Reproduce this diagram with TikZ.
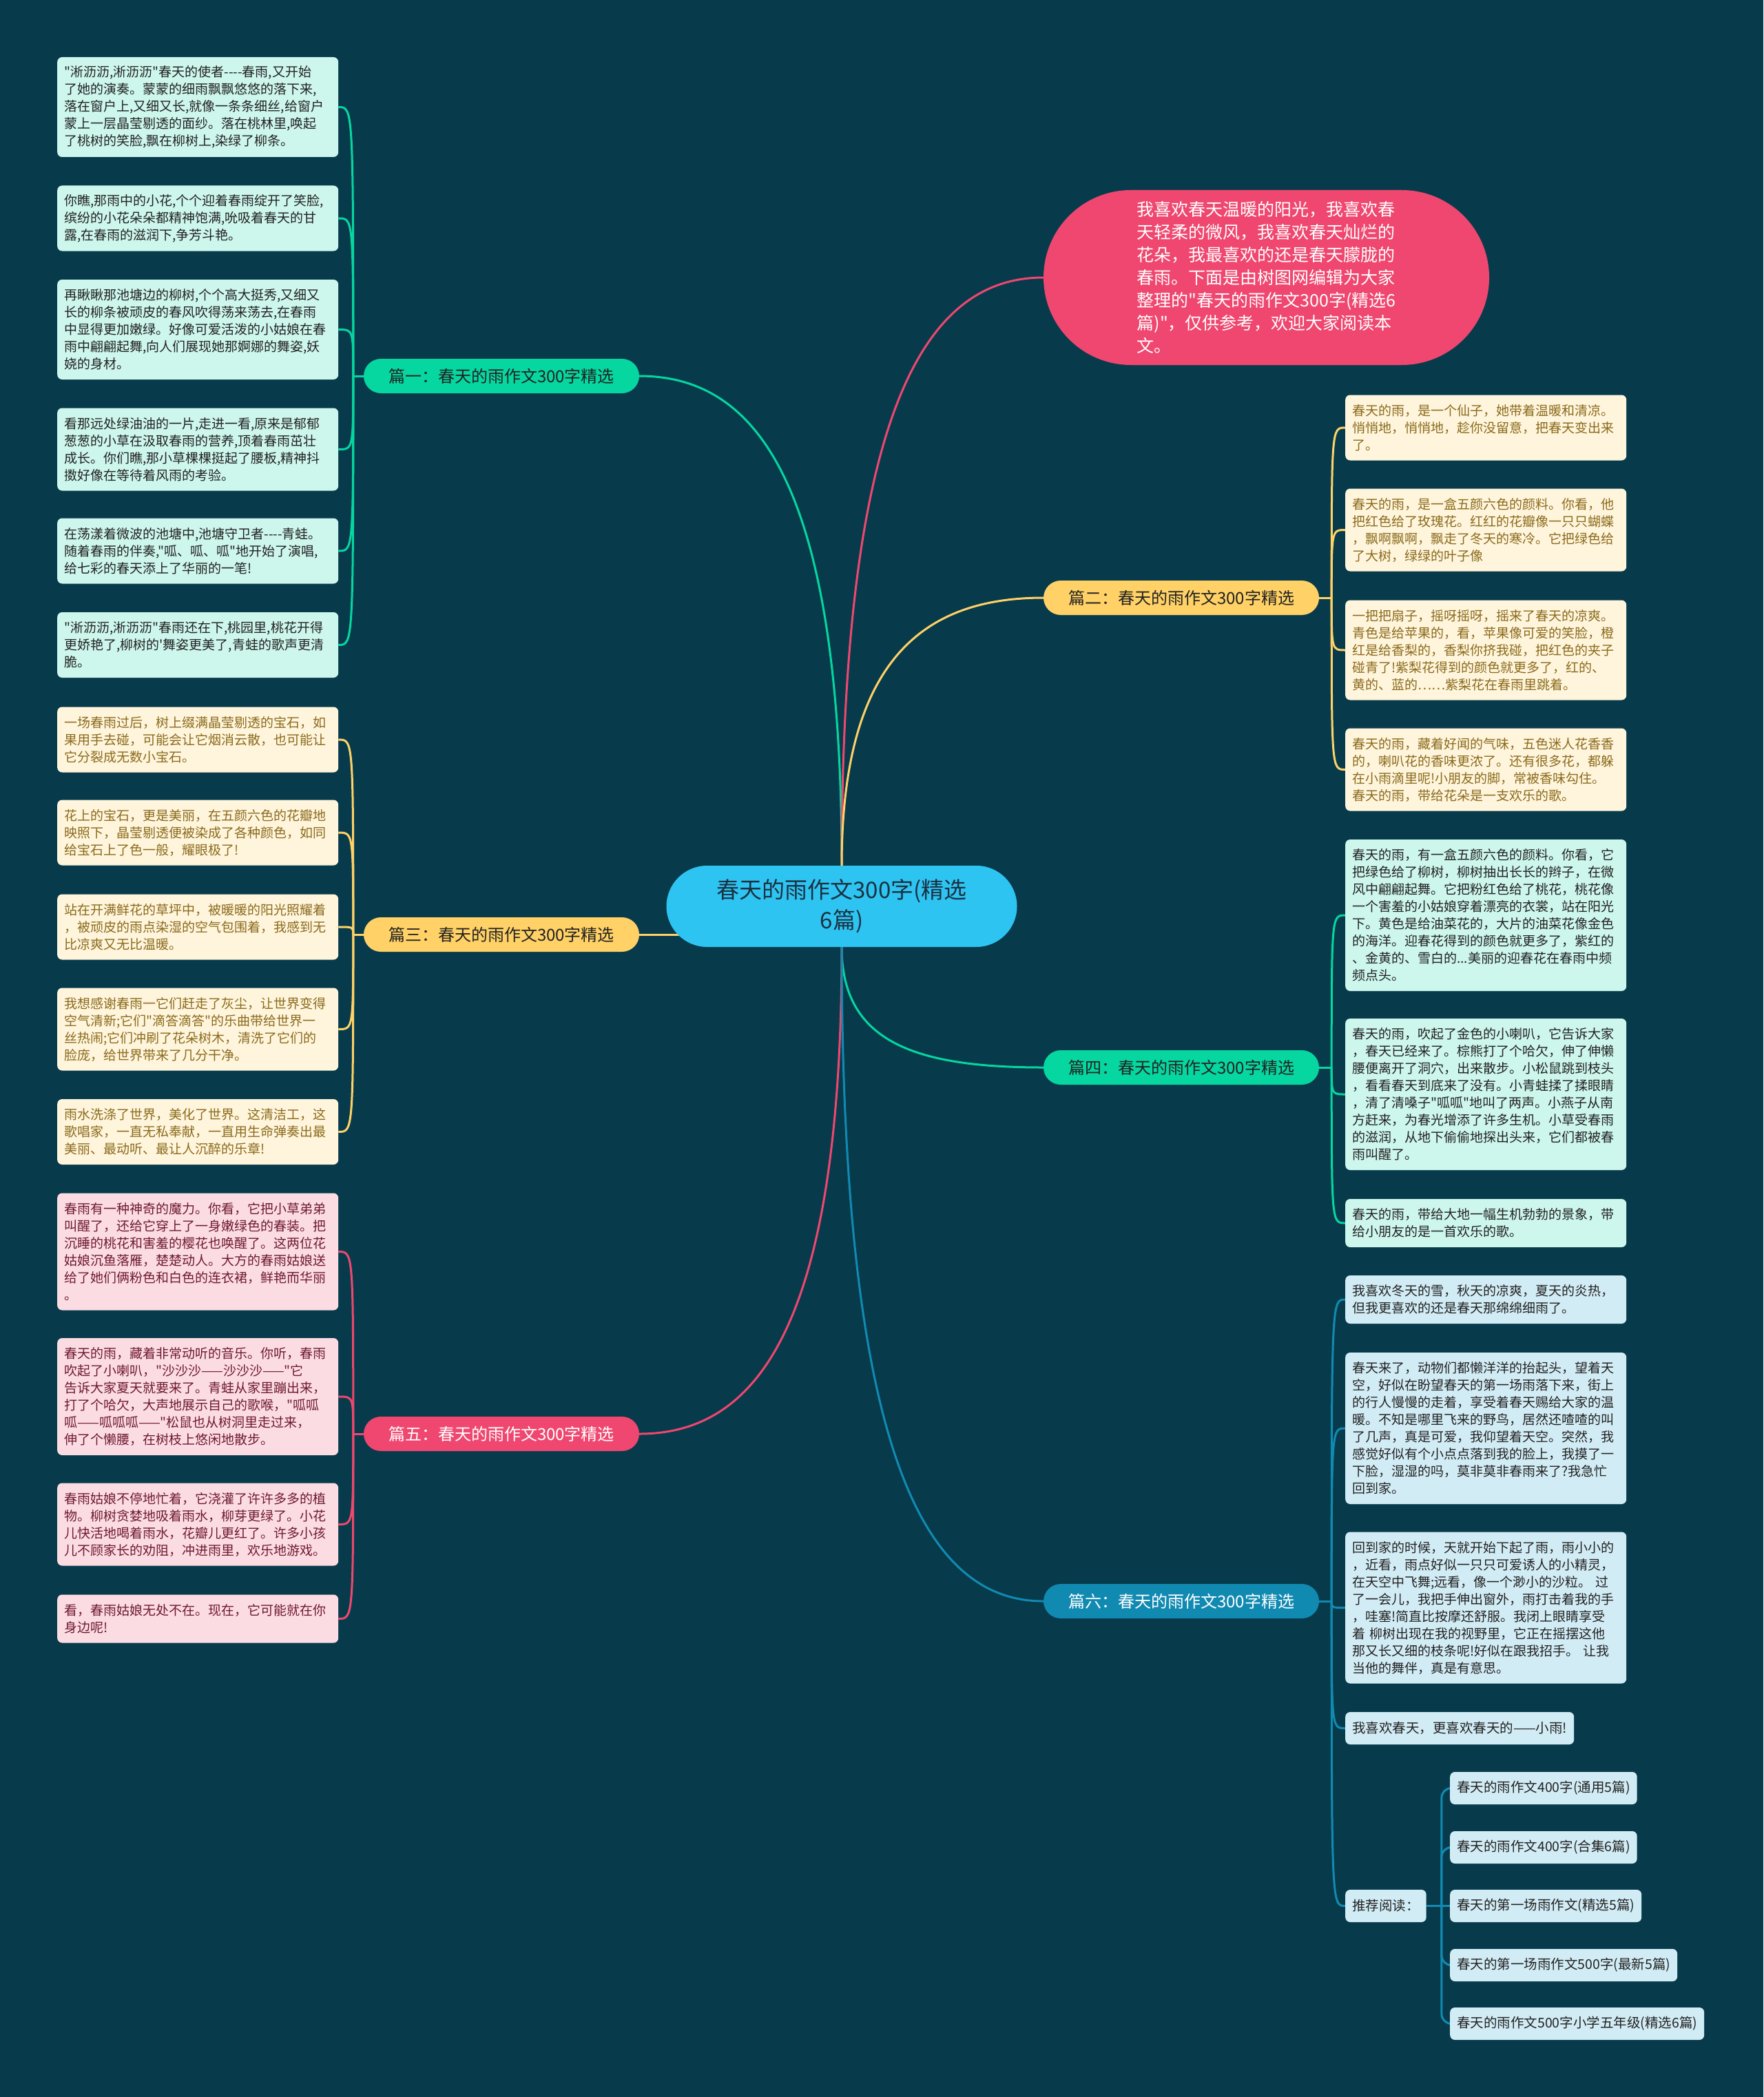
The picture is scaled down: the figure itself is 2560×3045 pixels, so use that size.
\documentclass[tikz,border=0pt]{standalone}
\usepackage{fontspec}
\newfontfamily\cjk{Noto Sans CJK SC}
\setlength\parindent{0pt}
\definecolor{bgc}{HTML}{073B4C}
\definecolor{pinkc}{HTML}{EF476F}
\definecolor{yelc}{HTML}{FFD166}
\definecolor{grnc}{HTML}{06D6A0}
\definecolor{bluc}{HTML}{118AB2}
\definecolor{cenc}{HTML}{2EC4F2}
\definecolor{gfill}{HTML}{CDF6EC}
\definecolor{yfill}{HTML}{FFF5DC}
\definecolor{pfill}{HTML}{FCDCE3}
\definecolor{bfill}{HTML}{D2ECF5}
\definecolor{ytext}{HTML}{8A6A1C}
\definecolor{ptext}{HTML}{6E1A2E}
\definecolor{dtext}{HTML}{222222}
\definecolor{ctext}{HTML}{1B3040}
\pgfdeclarelayer{bglayer}
\pgfdeclarelayer{linelayer}
\pgfsetlayers{bglayer,linelayer,main}
\begin{document}
\begin{tikzpicture}[x=1pt,y=-1pt,
  leaf/.style={rounded corners=7pt, inner xsep=10pt, inner ysep=0pt, text width=388pt, align=left, anchor=west, font=\cjk\fontsize{19pt}{25pt}\selectfont},
  lg/.style={leaf, fill=gfill, text=dtext},
  ly/.style={leaf, fill=yfill, text=ytext},
  lp/.style={leaf, fill=pfill, text=ptext},
  lb/.style={leaf, fill=bfill, text=dtext},
  one/.style={rounded corners=7pt, inner xsep=10pt, inner ysep=0pt, minimum height=47pt, anchor=west, fill=bfill, text=dtext, font=\cjk\fontsize{19.5pt}{25pt}\selectfont},
  branch/.style={rounded corners=25pt, minimum height=50pt, minimum width=400pt, inner sep=0pt, font=\cjk\fontsize{24pt}{28pt}\selectfont},
  con/.style={line width=3pt},
]
\begin{pgfonlayer}{bglayer}
\fill[bgc] (0,0) rectangle (2560,3045);
\end{pgfonlayer}
\useasboundingbox (0,0) rectangle (2560,3045);

% center and intro
\node[fill=cenc, rounded corners=59pt, minimum width=509pt, minimum height=118pt, inner sep=0pt, align=center, text=ctext, font=\cjk\fontsize{33pt}{44pt}\selectfont] (c) at (1222,1316) {春天的雨作文300字(精选\\6篇)};
\node[fill=pinkc, rounded corners=127pt, minimum width=647pt, minimum height=254pt, inner sep=0pt, align=left, text=white, font=\cjk\fontsize{25pt}{33pt}\selectfont] (i) at (1838.5,403) {我喜欢春天温暖的阳光，我喜欢春\\天轻柔的微风，我喜欢春天灿烂的\\花朵，我最喜欢的还是春天朦胧的\\春雨。下面是由树图网编辑为大家\\整理的"春天的雨作文300字(精选6\\篇)"，仅供参考，欢迎大家阅读本\\文。};

% branches
\node[branch, fill=grnc, text=dtext] (b1) at (728,546) {篇一：春天的雨作文300字精选};
\node[branch, fill=yelc, text=dtext] (b3) at (728,1357) {篇三：春天的雨作文300字精选};
\node[branch, fill=pinkc, text=white] (b5) at (728,2082) {篇五：春天的雨作文300字精选};
\node[branch, fill=yelc, text=dtext] (b2) at (1715,868) {篇二：春天的雨作文300字精选};
\node[branch, fill=grnc, text=dtext] (b4) at (1715,1550) {篇四：春天的雨作文300字精选};
\node[branch, fill=bluc, text=white] (b6) at (1715,2325) {篇六：春天的雨作文300字精选};

% left leaves, branch 1
\node[lg, minimum height=145pt] (l1a) at (83,155.5) {"淅沥沥,淅沥沥"春天的使者-{}-{}-{}-春雨,又开始\\了她的演奏。蒙蒙的细雨飘飘悠悠的落下来,\\落在窗户上,又细又长,就像一条条细丝,给窗户\\蒙上一层晶莹剔透的面纱。落在桃林里,唤起\\了桃树的笑脸,飘在柳树上,染绿了柳条。};
\node[lg, minimum height=95pt] (l1b) at (83,317) {你瞧,那雨中的小花,个个迎着春雨绽开了笑脸,\\缤纷的小花朵朵都精神饱满,吮吸着春天的甘\\露,在春雨的滋润下,争芳斗艳。};
\node[lg, minimum height=145pt] (l1c) at (83,478.5) {再瞅瞅那池塘边的柳树,个个高大挺秀,又细又\\长的柳条被顽皮的春风吹得荡来荡去,在春雨\\中显得更加嫩绿。好像可爱活泼的小姑娘在春\\雨中翩翩起舞,向人们展现她那婀娜的舞姿,妖\\娆的身材。};
\node[lg, minimum height=120pt] (l1d) at (83,652.5) {看那远处绿油油的一片,走进一看,原来是郁郁\\葱葱的小草在汲取春雨的营养,顶着春雨茁壮\\成长。你们瞧,那小草棵棵挺起了腰板,精神抖\\擞好像在等待着风雨的考验。};
\node[lg, minimum height=95pt] (l1e) at (83,800) {在荡漾着微波的池塘中,池塘守卫者-{}-{}-{}-青蛙。\\随着春雨的伴奏,"呱、呱、呱"地开始了演唱,\\给七彩的春天添上了华丽的一笔!};
\node[lg, minimum height=95pt] (l1f) at (83,936.5) {"淅沥沥,淅沥沥"春雨还在下,桃园里,桃花开得\\更娇艳了,柳树的'舞姿更美了,青蛙的歌声更清\\脆。};

% left leaves, branch 3
\node[ly, minimum height=95pt] (l3a) at (83,1074) {一场春雨过后，树上缀满晶莹剔透的宝石，如\\果用手去碰，可能会让它烟消云散，也可能让\\它分裂成无数小宝石。};
\node[ly, minimum height=95pt] (l3b) at (83,1209) {花上的宝石，更是美丽，在五颜六色的花瓣地\\映照下，晶莹剔透便被染成了各种颜色，如同\\给宝石上了色一般，耀眼极了!};
\node[ly, minimum height=95pt] (l3c) at (83,1346) {站在开满鲜花的草坪中，被暖暖的阳光照耀着\\，被顽皮的雨点染湿的空气包围着，我感到无\\比凉爽又无比温暖。};
\node[ly, minimum height=120pt] (l3d) at (83,1494.5) {我想感谢春雨一它们赶走了灰尘，让世界变得\\空气清新;它们"滴答滴答"的乐曲带给世界一\\丝热闹;它们冲刷了花朵树木，清洗了它们的\\脸庞，给世界带来了几分干净。};
\node[ly, minimum height=95pt] (l3e) at (83,1643.5) {雨水洗涤了世界，美化了世界。这清洁工，这\\歌唱家，一直无私奉献，一直用生命弹奏出最\\美丽、最动听、最让人沉醉的乐章!};

% left leaves, branch 5
\node[lp, minimum height=170pt] (l5a) at (83,1817.5) {春雨有一种神奇的魔力。你看，它把小草弟弟\\叫醒了，还给它穿上了一身嫩绿色的春装。把\\沉睡的桃花和害羞的樱花也唤醒了。这两位花\\姑娘沉鱼落雁，楚楚动人。大方的春雨姑娘送\\给了她们俩粉色和白色的连衣裙，鲜艳而华丽\\。};
\node[lp, minimum height=170pt] (l5b) at (83,2028) {春天的雨，藏着非常动听的音乐。你听，春雨\\吹起了小喇叭，"沙沙沙——沙沙沙——"它\\告诉大家夏天就要来了。青蛙从家里蹦出来，\\打了个哈欠，大声地展示自己的歌喉，"呱呱\\呱——呱呱呱——"松鼠也从树洞里走过来，\\伸了个懒腰，在树枝上悠闲地散步。};
\node[lp, minimum height=120pt] (l5c) at (83,2213.5) {春雨姑娘不停地忙着，它浇灌了许许多多的植\\物。柳树贪婪地吸着雨水，柳芽更绿了。小花\\儿快活地喝着雨水，花瓣儿更红了。许多小孩\\儿不顾家长的劝阻，冲进雨里，欢乐地游戏。};
\node[lp, minimum height=70pt] (l5d) at (83,2350.5) {看，春雨姑娘无处不在。现在，它可能就在你\\身边呢!};

% right leaves, branch 2
\node[ly, minimum height=95pt] (r2a) at (1953,621) {春天的雨，是一个仙子，她带着温暖和清凉。\\悄悄地，悄悄地，趁你没留意，把春天变出来\\了。};
\node[ly, minimum height=120pt] (r2b) at (1953,769.5) {春天的雨，是一盒五颜六色的颜料。你看，他\\把红色给了玫瑰花。红红的花瓣像一只只蝴蝶\\，飘啊飘啊，飘走了冬天的寒冷。它把绿色给\\了大树，绿绿的叶子像};
\node[ly, minimum height=145pt] (r2c) at (1953,944) {一把把扇子，摇呀摇呀，摇来了春天的凉爽。\\青色是给苹果的，看，苹果像可爱的笑脸，橙\\红是给香梨的，香梨你挤我碰，把红色的夹子\\碰青了!紫梨花得到的颜色就更多了，红的、\\黄的、蓝的……紫梨花在春雨里跳着。};
\node[ly, minimum height=120pt] (r2d) at (1953,1117.5) {春天的雨，藏着好闻的气味，五色迷人花香香\\的，喇叭花的香味更浓了。还有很多花，都躲\\在小雨滴里呢!小朋友的脚，常被香味勾住。\\春天的雨，带给花朵是一支欢乐的歌。};

% right leaves, branch 4
\node[lg, minimum height=220pt] (r4a) at (1953,1329) {春天的雨，有一盒五颜六色的颜料。你看，它\\把绿色给了柳树，柳树抽出长长的辫子，在微\\风中翩翩起舞。它把粉红色给了桃花，桃花像\\一个害羞的小姑娘穿着漂亮的衣裳，站在阳光\\下。黄色是给油菜花的，大片的油菜花像金色\\的海洋。迎春花得到的颜色就更多了，紫红的\\、金黄的、雪白的...美丽的迎春花在春雨中频\\频点头。};
\node[lg, minimum height=220pt] (r4b) at (1953,1589) {春天的雨，吹起了金色的小喇叭，它告诉大家\\，春天已经来了。棕熊打了个哈欠，伸了伸懒\\腰便离开了洞穴，出来散步。小松鼠跳到枝头\\，看看春天到底来了没有。小青蛙揉了揉眼睛\\，清了清嗓子"呱呱"地叫了两声。小燕子从南\\方赶来，为春光增添了许多生机。小草受春雨\\的滋润，从地下偷偷地探出头来，它们都被春\\雨叫醒了。};
\node[lg, minimum height=70pt] (r4c) at (1953,1776) {春天的雨，带给大地一幅生机勃勃的景象，带\\给小朋友的是一首欢乐的歌。};

% right leaves, branch 6
\node[lb, minimum height=70pt] (r6a) at (1953,1887) {我喜欢冬天的雪，秋天的凉爽，夏天的炎热，\\但我更喜欢的还是春天那绵绵细雨了。};
\node[lb, minimum height=220pt] (r6b) at (1953,2074) {春天来了，动物们都懒洋洋的抬起头，望着天\\空，好似在盼望春天的第一场雨落下来，街上\\的行人慢慢的走着，享受着春天赐给大家的温\\暖。不知是哪里飞来的野鸟，居然还喳喳的叫\\了几声，真是可爱，我仰望着天空。突然，我\\感觉好似有个小点点落到我的脸上，我摸了一\\下脸，湿湿的吗，莫非莫非春雨来了?我急忙\\回到家。};
\node[lb, minimum height=220pt] (r6c) at (1953,2334.5) {回到家的时候，天就开始下起了雨，雨小小的\\，近看，雨点好似一只只可爱诱人的小精灵，\\在天空中飞舞;远看，像一个渺小的沙粒。 过\\了一会儿，我把手伸出窗外，雨打击着我的手\\，哇塞!简直比按摩还舒服。我闭上眼睛享受\\着 柳树出现在我的视野里，它正在摇摆这他\\那又长又细的枝条呢!好似在跟我招手。 让我\\当他的舞伴，真是有意思。};
\node[one] (r6d) at (1953,2509.5) {我喜欢春天，更喜欢春天的——小雨!};
\node[one] (t) at (1953,2767.5) {推荐阅读：};
\node[one] (s1) at (2105,2596.5) {春天的雨作文400字(通用5篇)};
\node[one] (s2) at (2105,2682.5) {春天的雨作文400字(合集6篇)};
\node[one] (s3) at (2105,2767.5) {春天的第一场雨作文(精选5篇)};
\node[one] (s4) at (2105,2853.5) {春天的第一场雨作文500字(最新5篇)};
\node[one] (s5) at (2105,2938.5) {春天的雨作文500字小学五年级(精选6篇)};

\begin{pgfonlayer}{linelayer}
% center connectors
\draw[con, grnc] (b1.east) .. controls +(170,0) and +(0,-555) .. (c.north);
\draw[con, pinkc] (i.west) .. controls +(-170,0) and +(0,-666) .. (c.north);
\draw[con, yelc] (b2.west) .. controls +(-170,0) and +(0,-303) .. (c.north);
\draw[con, yelc] (b3.east) -- (b3.east -| c.center);
\draw[con, grnc] (c.south) .. controls +(0,136) and +(-190,0) .. (b4.west);
\draw[con, pinkc] (c.south) .. controls +(0,552) and +(170,0) .. (b5.east);
\draw[con, bluc] (c.south) .. controls +(0,741) and +(-170,0) .. (b6.west);
% leaf connectors
\draw[con, grnc] (b1.west) -- ++(-15,0) coordinate (j1);
\foreach \n in {l1a,l1b,l1c,l1d,l1e,l1f}
  \draw[con, grnc] (j1) .. controls (j1 |- \n.east) .. (\n.east);
\draw[con, yelc] (b3.west) -- ++(-15,0) coordinate (j3);
\foreach \n in {l3a,l3b,l3c,l3d,l3e}
  \draw[con, yelc] (j3) .. controls (j3 |- \n.east) .. (\n.east);
\draw[con, pinkc] (b5.west) -- ++(-15,0) coordinate (j5);
\foreach \n in {l5a,l5b,l5c,l5d}
  \draw[con, pinkc] (j5) .. controls (j5 |- \n.east) .. (\n.east);
\draw[con, yelc] (b2.east) -- ++(18,0) coordinate (j2);
\foreach \n in {r2a,r2b,r2c,r2d}
  \draw[con, yelc] (j2) .. controls (j2 |- \n.west) .. (\n.west);
\draw[con, grnc] (b4.east) -- ++(18,0) coordinate (j4);
\foreach \n in {r4a,r4b,r4c}
  \draw[con, grnc] (j4) .. controls (j4 |- \n.west) .. (\n.west);
\draw[con, bluc] (b6.east) -- ++(18,0) coordinate (j6);
\foreach \n in {r6a,r6b,r6c,r6d,t}
  \draw[con, bluc] (j6) .. controls (j6 |- \n.west) .. (\n.west);
\draw[con, bluc] (t.east) -- ++(22,0) coordinate (tj);
\foreach \n in {s1,s2,s4,s5}
  \draw[con, bluc, rounded corners=14pt] (tj) |- (\n.west);
\draw[con, bluc] (tj) -- (s3.west);
\end{pgfonlayer}
\end{tikzpicture}
\end{document}
